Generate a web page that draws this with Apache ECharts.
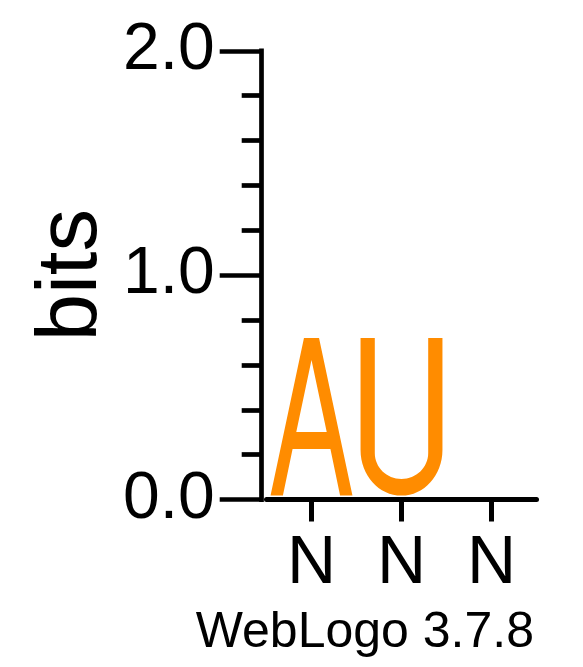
<!DOCTYPE html>
<html>
<head>
<meta charset="utf-8">
<script src="https://cdn.jsdelivr.net/npm/echarts@6/dist/echarts.min.js"></script>
<style>
  html, body { margin: 0; padding: 0; background: #ffffff; }
  #chart { width: 583px; height: 667px; }
</style>
</head>
<body>
<div id="chart"></div>
<script>
// ---- data ----
const positions = [0, 1, 2];
const positionLabels = ['N', 'N', 'N'];
const letters = ['A', 'U', ''];
const bits = [0.72, 0.72, 0];
const yTickValues = [0, 1, 2];
const yTickLabels = ['0.0', '1.0', '2.0'];
const yAxisTitle = 'bits';
const footer = 'WebLogo 3.7.8';

// ---- glyph outlines (unit box 0..100) ----
const glyphs = {
  A: 'M0,100 L40.8,0 L59.2,0 L100,100 L84.9,100 L73.1,70.5 L26.9,70.5 L15.1,100 Z ' +
     'M68.6,59.6 L50,13.9 L31.4,59.6 Z',
  U: 'M0,0 L17.4,0 L17.4,73 C17.4,82.1 32,89.5 50,89.5 C68,89.5 82.6,82.1 82.6,73 ' +
     'L82.6,0 L100,0 L100,71 C100,87 77.6,100 50,100 C22.4,100 0,87 0,71 Z'
};
const letterColor = '#FF8C00';

const seriesData = positions
  .map((p, i) => [p, bits[i], letters[i]])
  .filter(d => d[2] !== '');

const FONT = 'Liberation Sans, Arial, Helvetica, sans-serif';
const chart = echarts.init(document.getElementById('chart'));
chart.setOption({
  animation: false,
  backgroundColor: '#ffffff',
  title: {
    text: footer,
    right: 49,
    top: 608,
    padding: 0,
    textStyle: { fontFamily: FONT, fontSize: 50, fontWeight: 'normal', color: '#000' }
  },
  grid: { left: 266.5, right: 46.5, top: 50.8, bottom: 167.4, containLabel: false },
  xAxis: {
    type: 'category',
    data: positions.map(String),
    boundaryGap: true,
    axisLine: { show: true, lineStyle: { color: '#000', width: 5 } },
    axisTick: { show: true, alignWithLabel: true, length: 22, lineStyle: { color: '#000', width: 5 } },
    axisLabel: {
      fontFamily: FONT, fontSize: 68, color: '#000', margin: 31,
      formatter: (v, i) => positionLabels[i]
    },
    splitLine: { show: false }
  },
  yAxis: {
    type: 'value',
    min: yTickValues[0],
    max: yTickValues[yTickValues.length - 1],
    interval: 1,
    offset: 4.8,
    name: yAxisTitle,
    nameLocation: 'middle',
    nameRotate: 90,
    nameGap: 147,
    nameTextStyle: { fontFamily: FONT, fontSize: 85, color: '#000' },
    axisLine: { show: true, lineStyle: { color: '#000', width: 4.7, cap: 'square' } },
    axisTick: { show: true, length: 42, lineStyle: { color: '#000', width: 4.7 } },
    minorTick: { show: true, splitNumber: 5, length: 20, lineStyle: { color: '#000', width: 4.7 } },
    axisLabel: {
      fontFamily: FONT, fontSize: 66, color: '#000', margin: 47,
      formatter: v => yTickLabels[yTickValues.indexOf(v)]
    },
    splitLine: { show: false },
    minorSplitLine: { show: false }
  },
  series: [{
    type: 'custom',
    data: seriesData,
    encode: { x: 0, y: 1 },
    renderItem: function (params, api) {
      const idx = api.value(0);
      const v = api.value(1);
      const letter = seriesData[params.dataIndex][2];
      const base = api.coord([idx, 0]);
      const top = api.coord([idx, v]);
      const bw = api.size([1, 0])[0] * 0.91;
      const h = (base[1] - 4) - top[1];
      return {
        type: 'path',
        shape: { pathData: glyphs[letter], x: base[0] - bw / 2, y: top[1], width: bw, height: h, layout: 'cover' },
        style: { fill: letterColor }
      };
    }
  }]
});
</script>
</body>
</html>
